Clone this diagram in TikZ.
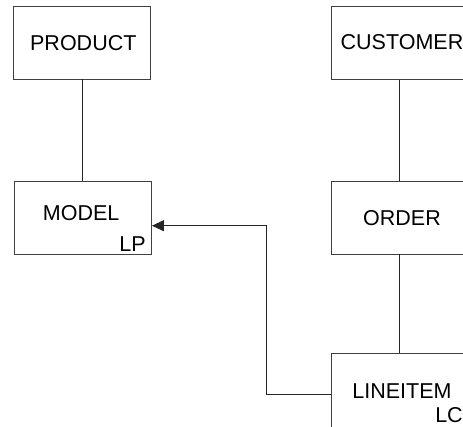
\documentclass[tikz,border=0pt]{standalone}
\usepackage{fontspec}
\setmainfont{Liberation Sans}
\usetikzlibrary{arrows.meta}
\begin{document}
\begin{tikzpicture}[x=1pt,y=-1pt,
  entity/.style={draw=black!75, line width=0.9pt, rectangle, inner sep=0pt, minimum width=137pt, minimum height=73pt},
  lbl/.style={inner sep=0pt, font=\fontsize{21.5}{24}\selectfont},
  link/.style={draw=black!85, line width=0.9pt},
  tipend/.style={-{Triangle[length=12pt,width=11pt]}}]
\useasboundingbox (0,0) rectangle (463,426);
\clip (0,0) rectangle (463,426);
\node[entity] (product) at (82,42.5) {};
\node[entity] (model) at (83,217.5) {};
\node[entity] (customer) at (399.5,43.3) {};
\node[entity] (order) at (399.5,217.5) {};
\node[entity, minimum height=90pt] (lineitem) at (399.5,398.7) {};
\node[lbl] (productlbl) at (83.3,42.7) {PRODUCT};
\node[lbl] (modellbl) at (81.2,213) {MODEL};
\node[lbl] (lp) at (132.5,243.7) {LP};
\node[lbl] (customerlbl) at (402,41.7) {CUSTOMER};
\node[lbl] (orderlbl) at (402,218) {ORDER};
\node[lbl] (lineitemlbl) at (402,390.7) {LINEITEM};
\node[lbl] (lc) at (449,415.3) {LC};
\draw[link] (product.south) -- (product.south |- model.north);
\draw[link] (customer.south) -- (order.north);
\draw[link] (order.south) -- (lineitem.north);
\draw[link,tipend] ([yshift=4pt]lineitem.west) -| (266.7,225.7) -- ([yshift=-8.2pt]model.east);
\end{tikzpicture}
\end{document}
